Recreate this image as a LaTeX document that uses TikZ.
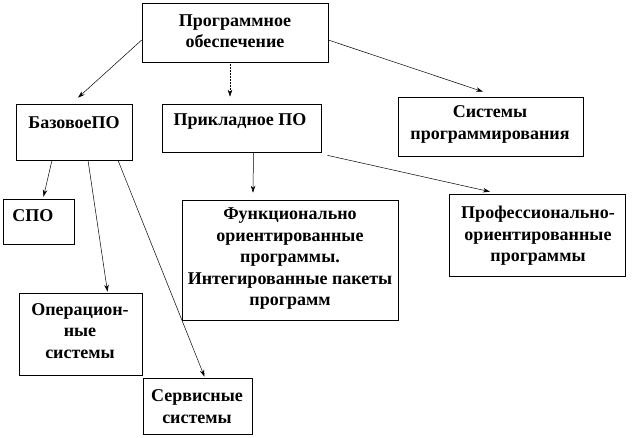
\documentclass[tikz,border=0pt]{standalone}
\usepackage{fontspec}
\setmainfont{Liberation Serif}[BoldFont={* Bold}]
\usetikzlibrary{arrows.meta}
\begin{document}
\begin{tikzpicture}[x=1pt,y=-1pt,
  box/.style={draw=black, line width=0.6pt, inner sep=0pt},
  lbl/.style={font=\bfseries\fontsize{18}{21.5}\selectfont, align=center, inner sep=0pt, text=black},
  conn/.style={draw=black, line width=0.5pt, -{Stealth[length=7pt,width=4.5pt]}}]
\useasboundingbox[fill=white] (0,0) rectangle (634,438);
% boxes
\node[box, minimum width=186pt, minimum height=59pt] (prog) at (235,32.5) {};
\node[box, minimum width=116pt, minimum height=56pt] (baz) at (74,132) {};
\node[box, minimum width=159pt, minimum height=48pt] (prik) at (241.5,128) {};
\node[box, minimum width=185pt, minimum height=59pt] (sys) at (490.5,126.5) {};
\node[box, minimum width=71pt, minimum height=45pt] (spo) at (38.5,221.5) {};
\node[box, minimum width=216pt, minimum height=120pt] (funk) at (290,260) {};
\node[box, minimum width=176pt, minimum height=82pt] (prof) at (537,235) {};
\node[box, minimum width=123pt, minimum height=82pt] (oper) at (80.5,334) {};
\node[box, minimum width=109pt, minimum height=56pt] (serv) at (197.5,406) {};
% texts
\node[lbl] (tprog) at (235,31) {Программное\\обеспечение};
\node[lbl] (tbaz) at (74,123) {БазовоеПО};
\node[lbl] (tprik) at (240,121) {Прикладное ПО};
\node[lbl] (tsys) at (490,124.5) {Системы\\программирования};
\node[lbl] (tspo) at (33,216) {СПО};
\node[lbl] (tfunk) at (290,259) {Функционально\\ориентированные\\программы.\\Интегированные пакеты\\программ};
\node[lbl] (tprof) at (538,236) {Профессионально-\\ориентированные\\программы};
\node[lbl] (toper) at (80,331) {Операцион-\\ные\\системы};
\node[lbl] (tserv) at (197,406.5) {Сервисные\\системы};
% connectors
\draw[conn] ([yshift=-7.5pt]prog.west) -- ([xshift=4pt,yshift=6pt]baz.north);
\draw[conn, densely dotted] ([xshift=-5pt]prog.south) -- ([xshift=-11.5pt,yshift=7pt]prik.north);
\draw[conn] ([yshift=-7.5pt]prog.east) -- ([xshift=-7.5pt,yshift=5pt]sys.north);
\draw[conn] ([xshift=-22pt]baz.south) -- ([xshift=5pt,yshift=2pt]spo.north);
\draw[conn] ([xshift=14pt]baz.south) -- ([xshift=27pt,yshift=1pt]oper.north);
\draw[conn] ([xshift=44pt]baz.south) -- ([xshift=7pt,yshift=1pt]serv.north);
\draw[conn] ([xshift=12pt]prik.south) -- ([xshift=-37pt,yshift=7pt]funk.north);
\draw[conn] ([xshift=6pt,yshift=-3pt]prik.south east) -- ([xshift=-47pt,yshift=2pt]prof.north);
\end{tikzpicture}
\end{document}
